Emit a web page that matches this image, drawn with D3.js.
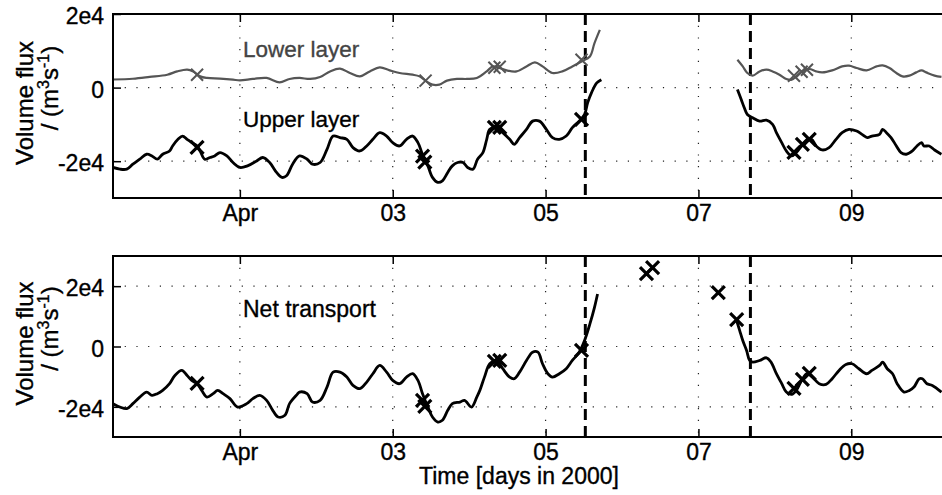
<!DOCTYPE html>
<html>
<head>
<meta charset="utf-8">
<script src="https://cdn.jsdelivr.net/npm/d3@7"></script>
<style>
  body { margin: 0; background: #fff; }
  svg { display: block; font-family: "Liberation Sans", Arial, Helvetica, sans-serif; }
  svg text { stroke: currentColor; stroke-width: 0.35px; }
  .grid { stroke: #222; stroke-width: 1.2; stroke-dasharray: 1.2 10.5; }
  .tick text { fill: #000; color: #000; }
</style>
</head>
<body>
<svg id="chart" width="942" height="495"></svg>
<script>
// ---- time axis (days in 2000) ----
const xDomain = [90.34, 101.2];
const xTicks = [92, 94, 96, 98, 100];
const xTickLabels = ["Apr", "03", "05", "07", "09"];
const breakDays = [96.52, 98.68];

// ---- flux axes ----
const yTicks = [-2e4, 0, 2e4];
const yTickLabels = ["-2e4", "0", "2e4"];
const layerDomain = [-3e4, 2e4];
const netDomain = [-3e4, 3e4];

// ---- lower layer transport [day, m3/s] ----
const lowerLayerA = [
  [90.34,2200],[90.60,2400],[90.82,2900],[91.05,3500],[91.18,4400],[91.31,4900],[91.39,4400],
  [91.48,3050],[91.57,2620],[91.74,2430],[91.91,2160],[92.00,1970],[92.17,2350],[92.35,2620],
  [92.52,1430],[92.65,2350],[92.78,2620],[92.92,2350],[93.05,2890],[93.18,4400],[93.31,5140],
  [93.44,3970],[93.57,3050],[93.70,4400],[93.83,5490],[93.96,4680],[94.09,3970],[94.26,3510],
  [94.35,3050],[94.44,1700],[94.52,810],[94.61,810],[94.71,1890],[94.84,2350],[94.97,2350],
  [95.10,2620],[95.23,4400],[95.31,5760],[95.40,5320],[95.49,4680],[95.62,4400],[95.75,5760],
  [95.86,6840],[95.96,5760],[96.09,3970],[96.22,4400],[96.35,5760],[96.47,7110],[96.58,8460],
  [96.64,12080],[96.71,15680]
];
const lowerLayerB = [
  [98.51,7570],[98.58,5760],[98.64,3970],[98.71,3240],[98.80,4400],[98.89,4860],[98.97,4400],
  [99.06,3510],[99.15,2350],[99.22,2160],[99.28,3050],[99.36,4400],[99.45,5050],[99.54,4400],
  [99.62,4140],[99.75,4680],[99.88,5760],[99.97,5950],[100.07,5320],[100.20,4680],[100.33,5760],
  [100.41,6030],[100.50,5320],[100.59,3970],[100.67,3050],[100.76,3240],[100.85,4140],
  [100.92,4680],[100.98,4140],[101.09,3240],[101.18,2890]
];
const lowerLayerCasts = [
  [91.44,3510],[94.43,1890],[95.33,5400],[95.40,5680],[96.47,7570],[99.25,3240],[99.35,4320],[99.42,4860]
];

// ---- upper layer transport [day, m3/s] ----
const upperLayerA = [
  [90.34,-21700],[90.43,-22160],[90.52,-22160],[90.60,-20810],[90.69,-19460],[90.78,-18110],
  [90.85,-18570],[90.92,-19460],[90.99,-18110],[91.08,-17220],[91.12,-15860],[91.19,-14050],
  [91.25,-13160],[91.31,-14050],[91.37,-14950],[91.44,-15860],[91.48,-17220],[91.54,-19460],
  [91.61,-19000],[91.67,-18570],[91.74,-17650],[91.83,-18570],[91.91,-20350],[92.00,-21700],
  [92.10,-21270],[92.22,-19920],[92.30,-19000],[92.39,-20350],[92.48,-23050],[92.55,-24400],
  [92.61,-23970],[92.69,-20810],[92.78,-18570],[92.88,-19460],[92.95,-20810],[93.05,-20350],
  [93.14,-16760],[93.22,-13160],[93.31,-13590],[93.40,-14050],[93.48,-16300],[93.57,-17220],
  [93.66,-15860],[93.74,-14050],[93.83,-12240],[93.92,-13160],[94.00,-14950],[94.09,-15860],
  [94.18,-14050],[94.26,-13160],[94.33,-14950],[94.38,-17650],[94.42,-19460],[94.46,-21270],
  [94.52,-24400],[94.59,-25760],[94.65,-25320],[94.72,-23050],[94.78,-21270],[94.85,-20350],
  [94.92,-20350],[94.98,-21700],[95.05,-22160],[95.11,-19460],[95.18,-17650],[95.23,-14050],
  [95.27,-11350],[95.36,-10890],[95.44,-12240],[95.53,-14050],[95.59,-15410],[95.66,-13590],
  [95.75,-11350],[95.83,-9110],[95.92,-9110],[96.01,-11350],[96.09,-13590],[96.18,-14050],
  [96.27,-13160],[96.35,-10890],[96.44,-9110],[96.51,-7300],[96.55,-4140],[96.60,-1430],
  [96.67,1270],[96.73,2160]
];
const upperLayerB = [
  [98.51,-540],[98.56,-3240],[98.60,-5490],[98.64,-7300],[98.71,-8190],[98.80,-9110],[98.89,-8840],
  [98.97,-10000],[99.02,-12240],[99.09,-14950],[99.15,-17220],[99.22,-18570],[99.28,-17650],
  [99.35,-15860],[99.41,-14510],[99.48,-14050],[99.54,-15860],[99.62,-16950],[99.71,-16300],
  [99.80,-14050],[99.88,-12240],[99.97,-11350],[100.07,-11810],[100.14,-12700],[100.21,-13590],
  [100.27,-13160],[100.37,-12700],[100.41,-11350],[100.46,-12240],[100.52,-13590],[100.59,-15860],
  [100.65,-17650],[100.72,-18110],[100.80,-17220],[100.86,-15860],[100.92,-14950],[100.95,-15860],
  [101.02,-15860],[101.09,-16950],[101.18,-18110]
];
const upperLayerCasts = [
  [91.44,-16220],[94.39,-18650],[94.42,-20270],[95.33,-10810],[95.40,-10810],[96.47,-8650],
  [99.25,-17570],[99.36,-15410],[99.45,-14050]
];

// ---- net transport [day, m3/s] ----
const netA = [
  [90.34,-18940],[90.43,-20070],[90.52,-20600],[90.60,-18940],[90.69,-16760],[90.78,-15110],
  [90.85,-16200],[90.92,-15640],[90.99,-14550],[91.08,-12330],[91.15,-9590],[91.24,-7930],
  [91.31,-9590],[91.37,-11240],[91.44,-12330],[91.50,-14550],[91.57,-16760],[91.65,-15640],
  [91.71,-14550],[91.78,-15640],[91.87,-17290],[91.97,-20070],[92.09,-18940],[92.17,-17290],
  [92.26,-16200],[92.35,-17850],[92.43,-21160],[92.50,-23370],[92.59,-22810],[92.65,-18940],
  [92.75,-15870],[92.78,-15110],[92.88,-15640],[92.95,-18410],[93.05,-17850],[93.14,-13450],
  [93.22,-8500],[93.31,-8500],[93.40,-10150],[93.48,-12890],[93.57,-13980],[93.66,-11800],
  [93.74,-9030],[93.83,-6280],[93.92,-8500],[94.00,-11240],[94.09,-12330],[94.18,-10150],
  [94.26,-9030],[94.33,-11240],[94.39,-15640],[94.46,-20070],[94.52,-23370],[94.59,-25030],
  [94.65,-24460],[94.72,-21160],[94.78,-18940],[94.88,-18410],[94.94,-17850],[95.03,-20070],
  [95.10,-16760],[95.14,-14550],[95.20,-10150],[95.27,-5720],[95.36,-4630],[95.44,-7370],
  [95.53,-10150],[95.59,-10680],[95.66,-8500],[95.75,-4630],[95.83,-1880],[95.90,-1880],
  [95.96,-5720],[96.03,-9030],[96.09,-10150],[96.18,-9030],[96.27,-7370],[96.35,-4630],
  [96.44,-1880],[96.51,1980],[96.58,7500],[96.64,12990],[96.68,17420]
];
const netB = [
  [98.50,8600],[98.54,5290],[98.58,1980],[98.63,-1320],[98.67,-4630],[98.71,-5190],[98.80,-4630],
  [98.89,-3740],[98.95,-5190],[99.02,-9030],[99.09,-12330],[99.15,-15110],[99.22,-15870],
  [99.28,-14550],[99.35,-11240],[99.42,-9030],[99.49,-10150],[99.58,-12330],[99.67,-12560],
  [99.75,-10680],[99.84,-7930],[99.93,-5950],[100.01,-5720],[100.10,-7370],[100.20,-9030],
  [100.27,-7930],[100.37,-6280],[100.41,-5190],[100.47,-7370],[100.54,-9030],[100.60,-12330],
  [100.69,-15110],[100.76,-14550],[100.82,-13450],[100.89,-10680],[100.93,-10680],[100.99,-12330],
  [101.06,-12890],[101.18,-15110]
];
const netCasts = [
  [91.44,-12230],[94.39,-17850],[94.42,-19840],[95.33,-4960],[95.40,-4630],[96.47,-1320],
  [97.32,24130],[97.40,26120],[98.26,17850],[98.50,8930],[99.25,-13880],[99.36,-10910],[99.45,-8930]
];

// ---- drawing ----
const svg = d3.select("#chart");
const left = 113, right = 943;
const FONT = 23;

function cross(sel, pts, x, y, size, width, color) {
  sel.selectAll(null).data(pts).join("path")
    .attr("transform", d => `translate(${x(d[0])},${y(d[1])})`)
    .attr("d", `M${-size},${-size}L${size},${size}M${-size},${size}L${size},${-size}`)
    .attr("fill", "none").attr("stroke", color).attr("stroke-width", width);
}

function drawPanel(id, top, bottom, yDomain, layers, labels) {
  const x = d3.scaleLinear().domain(xDomain).range([left, right]);
  const y = d3.scaleLinear().domain(yDomain).range([bottom, top]);
  const g = svg.append("g");

  g.append("clipPath").attr("id", id).append("rect")
    .attr("x", left).attr("y", top).attr("width", right - left).attr("height", bottom - top);

  // dotted grid
  g.selectAll(null).data(xTicks).join("line").attr("class", "grid")
    .attr("x1", d => x(d)).attr("x2", d => x(d)).attr("y1", top).attr("y2", bottom);
  g.selectAll(null).data(yTicks.filter(t => y(t) > top + 1)).join("line").attr("class", "grid")
    .attr("x1", left).attr("x2", right).attr("y1", d => y(d)).attr("y2", d => y(d));

  // axes with inward ticks
  const ax = g.append("g").attr("transform", `translate(0,${bottom})`)
    .call(d3.axisBottom(x).tickValues(xTicks).tickFormat((d, i) => xTickLabels[i])
      .tickSizeInner(-8).tickSizeOuter(0).tickPadding(0));
  ax.selectAll(".tick text").attr("dy", null).attr("y", 23).style("font-size", FONT + "px");
  g.append("g").attr("transform", `translate(0,${top})`)
    .call(d3.axisTop(x).tickValues(xTicks).tickFormat("").tickSizeInner(-8).tickSizeOuter(0));
  const ay = g.append("g").attr("transform", `translate(${left},0)`)
    .call(d3.axisLeft(y).tickValues(yTicks).tickFormat((d, i) => yTickLabels[i])
      .tickSizeInner(-8).tickSizeOuter(0).tickPadding(9));
  ay.selectAll(".tick text").attr("dy", "0.42em").style("font-size", FONT + "px");
  g.selectAll(".domain").remove();
  g.selectAll(".tick line").attr("stroke", "#000").attr("stroke-width", 1.5);

  const plot = g.append("g").attr("clip-path", `url(#${id})`);

  // gaps in the record
  plot.selectAll(null).data(breakDays).join("line")
    .attr("x1", d => x(d)).attr("x2", d => x(d)).attr("y1", top).attr("y2", bottom)
    .attr("stroke", "#000").attr("stroke-width", 3).attr("stroke-dasharray", "11 6");

  const line = d3.line().x(d => x(d[0])).y(d => y(d[1])).curve(d3.curveCatmullRom.alpha(0.5));
  layers.forEach(L => {
    L.segments.forEach(seg => plot.append("path").attr("d", line(seg))
      .attr("fill", "none").attr("stroke", L.color).attr("stroke-width", L.width)
      .attr("stroke-linejoin", "round"));
    cross(plot, L.casts, x, y, L.mark, L.markWidth, L.color);
  });

  labels.forEach(t => g.append("text").attr("x", t.x).attr("y", t.y)
    .attr("fill", t.color).style("color", t.color).style("font-size", t.size + "px").text(t.text));

  // frame
  g.append("rect").attr("x", left).attr("y", top).attr("width", right - left).attr("height", bottom - top)
    .attr("fill", "none").attr("stroke", "#000").attr("stroke-width", 2);

  // y-axis title
  const cy = (top + bottom) / 2;
  g.append("text").attr("transform", `translate(33,${cy - 3}) rotate(-90)`)
    .attr("text-anchor", "middle").style("font-size", "24px").text("Volume flux");
  const t2 = g.append("text").attr("transform", `translate(58,${cy - 18}) rotate(-90)`)
    .attr("text-anchor", "middle").style("font-size", "24px");
  t2.append("tspan").text("/ (m");
  t2.append("tspan").attr("dy", -9).style("font-size", "16px").text("3");
  t2.append("tspan").attr("dy", 9).text("s");
  t2.append("tspan").attr("dy", -9).style("font-size", "16px").text("-1");
  t2.append("tspan").attr("dy", 9).text(")");
}

drawPanel("clipTop", 14, 198, layerDomain, [
  { segments: [lowerLayerA, lowerLayerB], casts: lowerLayerCasts, color: "#555", width: 2.2, mark: 6, markWidth: 2 },
  { segments: [upperLayerA, upperLayerB], casts: upperLayerCasts, color: "#000", width: 2.8, mark: 6.5, markWidth: 3.2 }
], [
  { text: "Lower layer", x: 243, y: 57, color: "#444", size: 22.5 },
  { text: "Upper layer", x: 243, y: 127, color: "#000", size: 22.5 }
]);

drawPanel("clipBottom", 256, 437, netDomain, [
  { segments: [netA, netB], casts: netCasts, color: "#000", width: 2.8, mark: 6.5, markWidth: 3.2 }
], [
  { text: "Net transport", x: 243, y: 317, color: "#000", size: 23 }
]);

svg.append("text").attr("x", 519).attr("y", 484).attr("text-anchor", "middle")
  .style("font-size", FONT + "px").text("Time [days in 2000]");
</script>
</body>
</html>
